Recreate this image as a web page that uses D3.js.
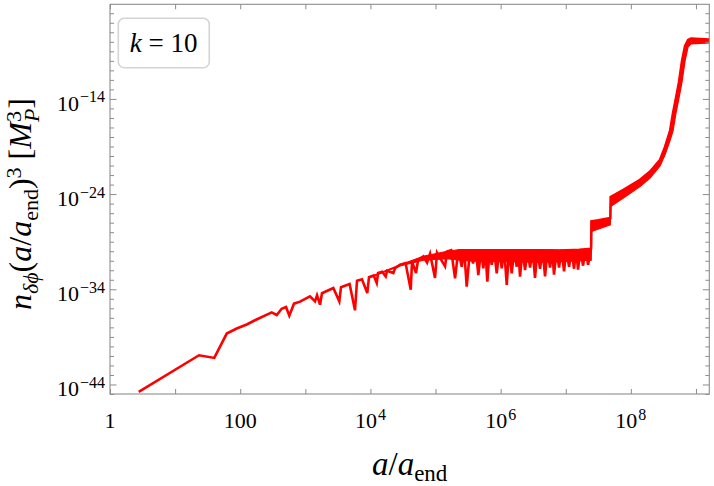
<!DOCTYPE html>
<html>
<head>
<meta charset="utf-8">
<script src="https://cdn.jsdelivr.net/npm/d3@7"></script>
<style>
body{margin:0;background:#fff}
</style>
</head>
<body>
<svg id="chart" width="714" height="486" font-family="Liberation Serif"></svg>
<script>
// values as [log10(a/a_end), log10(n (a/a_end)^3)]
var early=[[0.441,-44.78],[1.367,-40.93],[1.602,-41.21],[1.793,-38.65],[1.946,-38.12],[2.100,-37.70],
 [2.227,-37.25],[2.484,-36.42],[2.561,-36.70],[2.637,-36.04],[2.704,-35.86],[2.754,-36.77],[2.826,-35.51],
 [2.919,-35.30],[3.072,-34.75],[3.149,-35.27],[3.180,-34.62],[3.226,-35.62],[3.256,-34.41],[3.430,-33.86],
 [3.522,-35.27],[3.548,-33.78],[3.680,-33.45],[3.763,-36.21],[3.794,-33.10],[3.870,-32.95],[3.952,-34.39],
 [3.978,-32.73],[4.050,-32.55],[4.097,-33.34],[4.117,-32.29],[4.180,-32.15],[4.235,-32.65],[4.255,-32.05],
 [4.352,-32.29],[4.378,-31.79],[4.455,-31.42],[4.540,-31.25],[4.619,-34.04],[4.639,-31.10],[4.700,-32.29],
 [4.731,-30.95],[4.813,-30.55],[4.870,-31.20],[4.916,-30.26],[4.992,-32.81],[5.023,-30.16],[5.146,-31.60],
 [5.177,-30.02]];
var plateau=[[5.240,-29.90],[5.300,-32.86],[5.350,-29.85],[5.402,-31.63],[5.440,-29.85],[5.479,-33.73],
 [5.530,-29.80],[5.576,-31.28],[5.620,-29.85],[5.657,-32.50],[5.700,-29.85],[5.734,-31.81],[5.765,-29.80],
 [5.796,-33.20],[5.830,-29.85],[5.863,-31.42],[5.900,-29.85],[5.940,-32.33],[5.980,-29.80],[6.017,-31.81],
 [6.055,-29.85],[6.094,-33.55],[6.130,-29.85],[6.170,-32.33],[6.210,-29.80],[6.247,-31.63],[6.272,-29.85],
 [6.298,-32.68],[6.335,-29.85],[6.375,-31.97],[6.415,-29.85],[6.452,-31.73],[6.490,-29.80],[6.528,-32.81],
 [6.565,-29.85],[6.605,-31.84],[6.645,-29.85],[6.682,-32.65],[6.720,-29.85],[6.759,-31.73],[6.790,-29.80],
 [6.820,-32.47],[6.860,-29.85],[6.897,-31.73],[6.935,-29.85],[6.974,-32.12],[7.010,-29.80],[7.051,-31.63],
 [7.090,-29.80],[7.127,-31.84],[7.160,-29.80],[7.189,-31.94],[7.225,-29.75],[7.266,-31.52],[7.305,-29.70],
 [7.343,-31.42],[7.390,-29.65]];
var late=[[7.395,-26.87],[7.500,-26.75],[7.600,-26.62],[7.685,-26.52],[7.690,-24.31],[7.885,-23.55],
 [8.141,-22.50],[8.295,-21.63],[8.449,-20.40],[8.525,-19.04],[8.602,-17.36],[8.648,-15.47],[8.694,-13.89],
 [8.740,-12.22],[8.786,-10.01],[8.833,-8.44],[8.879,-7.81],[8.925,-7.65],[9.063,-7.70],[9.205,-7.76]];
// spread of the fast oscillation: [log10 a, upper, lower]
var band=[[4.000,-32.70,-32.75],[4.455,-31.42,-31.55],[4.813,-30.53,-30.95],[5.177,-30.00,-30.79],
 [5.376,-29.82,-30.95],[5.576,-29.82,-31.05],[6.098,-29.82,-31.10],[6.605,-29.82,-31.15],[6.912,-29.85,-31.10],
 [7.220,-29.78,-31.00],[7.392,-29.68,-30.95],[7.395,-26.87,-27.92],[7.685,-26.52,-27.22],[7.690,-24.31,-25.30],
 [7.885,-23.55,-24.42],[8.141,-22.50,-23.20],[8.295,-21.63,-22.32],[8.449,-20.40,-21.03],[8.525,-19.04,-19.88],
 [8.602,-17.36,-18.37],[8.648,-15.47,-17.36],[8.694,-13.89,-15.47],[8.740,-12.22,-13.90],[8.786,-10.01,-12.22],
 [8.833,-8.44,-10.01],[8.879,-7.81,-8.54],[8.925,-7.65,-8.22],[9.063,-7.70,-8.17],[9.205,-7.76,-8.12]];

var xTickExp=[0,1,2,3,4,5,6,7,8,9];
var xLabelExp=[0,2,4,6,8];
var yLabelExp=[-44,-34,-24,-14];
var yTickExp=d3.range(-45,-4);

var svg=d3.select("#chart");
var L=110,R=709.3,T=4.3,B=394;
var x=d3.scaleLog().domain([1,Math.pow(10,9.205)]).range([L,R]);
var y=d3.scaleLog().domain([1e-45,Math.pow(10,-4.06)]).range([B,T]);
var p10=function(e){return Math.pow(10,e);};

svg.append("clipPath").attr("id","clip").append("rect")
  .attr("x",L).attr("y",T).attr("width",R-L).attr("height",B-T);

var g=svg.append("g").attr("clip-path","url(#clip)");

var area=d3.area()
  .x(function(d){return x(p10(d[0]));})
  .y0(function(d){return y(p10(d[2]));})
  .y1(function(d){return y(p10(d[1]));});
g.append("path").datum(band).attr("d",area)
  .attr("fill","#ff0000").attr("stroke","#ff0000").attr("stroke-width",1.2);

var line=d3.line()
  .x(function(d){return x(p10(d[0]));})
  .y(function(d){return y(p10(d[1]));});
g.append("path").datum(early.concat(plateau,late)).attr("d",line)
  .attr("fill","none").attr("stroke","#ff0000").attr("stroke-width",2.6)
  .attr("stroke-linejoin","miter");

// frame and inward ticks
var tickCol="#8c8c8c";
function ticks(axis,pos,vals,size){
  var a=svg.append("g").attr("transform",pos)
    .call(axis.tickValues(vals).tickSize(size).tickFormat(""));
  a.select(".domain").remove();
  a.selectAll("line").attr("stroke",tickCol);
}
var xv=xTickExp.map(p10);
ticks(d3.axisBottom(x),"translate(0,"+B+")",xv,-5);
ticks(d3.axisTop(x),"translate(0,"+T+")",xv,-5);
var yMinor=yTickExp.filter(function(e){return yLabelExp.indexOf(e)<0;}).map(p10);
ticks(d3.axisLeft(y),"translate("+L+",0)",yMinor,-4);
ticks(d3.axisRight(y),"translate("+R+",0)",yMinor,-4);
ticks(d3.axisLeft(y),"translate("+L+",0)",yLabelExp.map(p10),-6.5);
ticks(d3.axisRight(y),"translate("+R+",0)",yLabelExp.map(p10),-6.5);
svg.append("rect").attr("x",L).attr("y",T).attr("width",R-L).attr("height",B-T)
  .attr("fill","none").attr("stroke",tickCol).attr("stroke-width",1.1);

// text runs with sub/superscripts: {t, it, size, up, dx}
function runs(sel,parts){
  sel.attr("font-family","Liberation Serif").attr("fill","#000");
  var cur=0;
  parts.forEach(function(p){
    var up=p.up||0;
    var ts=sel.append("tspan").text(p.t).attr("dy",(cur-up)+"px");
    if(p.it) ts.attr("font-style","italic");
    if(p.size) ts.attr("font-size",p.size);
    if(p.dx) ts.attr("dx",p.dx);
    cur=up;
  });
}
function pow10(e){
  if(e===0) return [{t:"1"}];
  if(e===2) return [{t:"100"}];
  return [{t:"10"},{t:String(e).replace("-","\u2212"),size:16,up:8.5,dx:1}];
}

xLabelExp.forEach(function(e){
  var t=svg.append("text").attr("x",x(p10(e))).attr("y",B+34)
    .attr("text-anchor","middle").attr("font-size",22);
  runs(t,pow10(e));
});
yLabelExp.forEach(function(e){
  var t=svg.append("text").attr("x",L-5).attr("y",y(p10(e))+12)
    .attr("text-anchor","end").attr("font-size",22);
  runs(t,pow10(e));
});

// axis titles
var xt=svg.append("text").attr("x",(L+R)/2).attr("y",475)
  .attr("text-anchor","middle").attr("font-size",33);
runs(xt,[{t:"a",it:1},{t:"/"},{t:"a",it:1},{t:"end",size:23,up:-6}]);

var yt=svg.append("text").attr("transform","translate(31,204) rotate(-90)")
  .attr("text-anchor","middle").attr("font-size",32);
runs(yt,[{t:"n",it:1},{t:"\u03b4\u03d5",it:1,size:22,up:-7},{t:"(",up:0},{t:"a",it:1},{t:"/"},
  {t:"a",it:1},{t:"end",size:22,up:-7},{t:")",up:0},{t:"3",size:22,up:10.5},{t:"\u00a0[",up:0},
  {t:"M",it:1},{t:"3",size:22,up:10.5},{t:"P",it:1,size:22,up:-8,dx:-11},{t:"]",up:0}]);

// legend
svg.append("rect").attr("x",118.3).attr("y",18.3).attr("width",91).attr("height",49.4)
  .attr("rx",6).attr("fill","#fff").attr("stroke","#d4d4d4").attr("stroke-width",1.6);
var lt=svg.append("text").attr("x",163.7).attr("y",51.5)
  .attr("text-anchor","middle").attr("font-size",27);
runs(lt,[{t:"k",it:1},{t:" = 10"}]);
</script>
</body>
</html>
